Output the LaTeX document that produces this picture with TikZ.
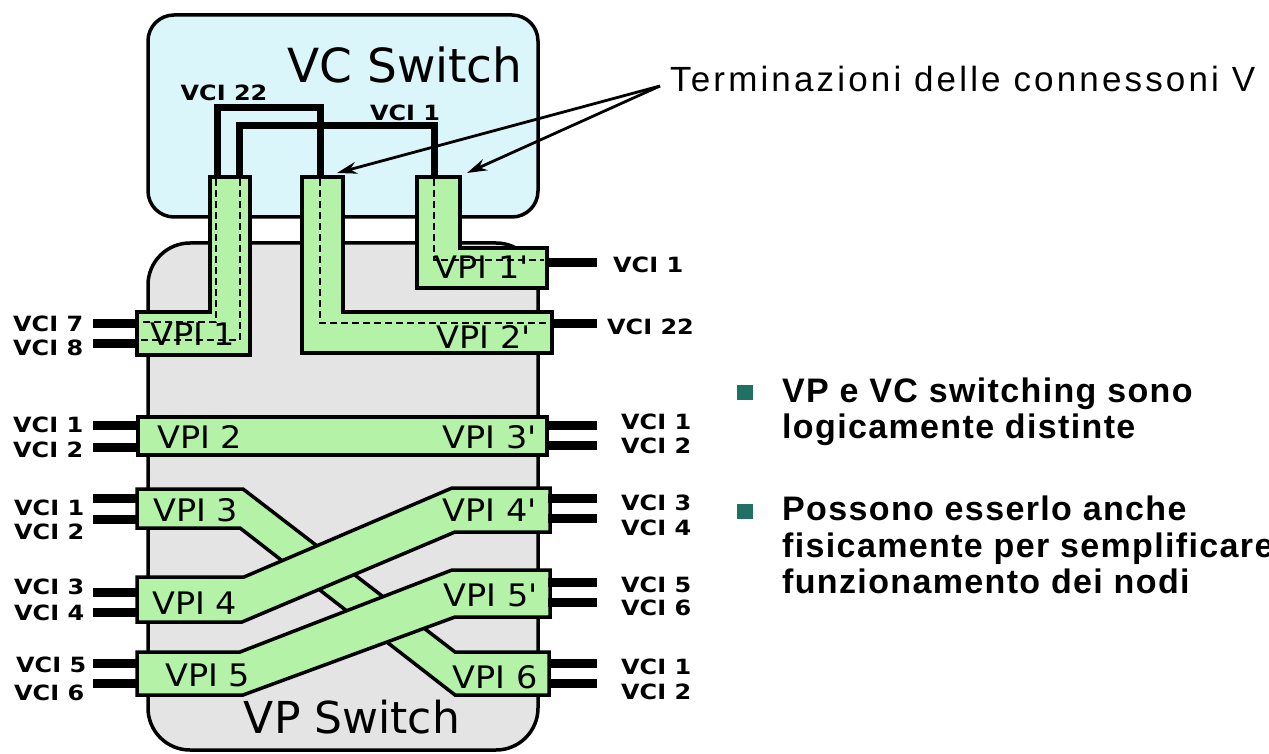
\documentclass[tikz,border=0pt]{standalone}
\usepackage{fontspec}
\usepackage{graphicx}
\setmainfont{DejaVu Sans}
\newfontfamily\termfont[LetterSpace=9]{Liberation Sans}
\newfontfamily\bulfont[LetterSpace=4]{Liberation Sans}
\usetikzlibrary{arrows.meta}
\definecolor{vcblue}{RGB}{218,246,250}
\definecolor{vpgray}{RGB}{228,228,228}
\definecolor{vpigreen}{RGB}{180,242,168}
\definecolor{bulletcol}{RGB}{32,112,100}
\newcommand{\wx}[1]{\scalebox{1.08}[1]{#1}}
\newcommand{\wv}[1]{\scalebox{1.14}[1]{#1}}
\begin{document}
\begin{tikzpicture}[x=1pt,y=-1pt,
  box/.style={draw=black,line width=3.5pt},
  vpi/.style={draw=black,fill=vpigreen,line width=3.5pt,line join=miter},
  vcline/.style={line width=7pt,line join=miter},
  stub/.style={line width=9pt},
  dsh/.style={line width=2.5pt,dash pattern=on 7pt off 4pt},
  vci/.style={font=\fontsize{21}{23}\selectfont\bfseries,inner sep=0pt},
  vpilab/.style={font=\fontsize{31}{33}\selectfont,inner sep=0pt},
  arr/.style={line width=2.8pt,-{Stealth[length=20pt,width=12pt]}},
  bul/.style={font=\fontsize{34}{36}\selectfont\bulfont\bfseries,inner sep=0pt,anchor=base west},
  sq/.style={fill=bulletcol}
  ]
\useasboundingbox (0,0) rectangle (1269,754);
\fill[white] (0,0) rectangle (1269,754);

% switch boxes
\draw[box,fill=vcblue,rounded corners=26pt] (148,15) rectangle (538,217);
\node[anchor=base,inner sep=0pt,font=\fontsize{47}{50}\selectfont] (vctitle) at (405,83) {VC Switch};
\draw[box,fill=vpgray,rounded corners=42pt] (148,243) rectangle (538,750);
\node[anchor=base,inner sep=0pt,font=\fontsize{44}{48}\selectfont] (vptitle) at (352,733) {VP Switch};

% VC switching connections
\draw[vcline] (217,178) -- (217,108) -- (320,108) -- (320,178);
\draw[vcline] (239,178) -- (239,126) -- (434,126) -- (434,178);
\node[vci] (top22) at (224,93) {\wv{VCI 22}};
\node[vci] (top1) at (405,113) {\wv{VCI 1}};

% VP paths
\draw[vpi] (210,177) -- (250,177) -- (250,355) -- (137,355) -- (137,312) -- (210,312) -- cycle;
\draw[vpi] (302,177) -- (343,177) -- (343,312) -- (552,312) -- (552,353) -- (302,353) -- cycle;
\draw[vpi] (417,177) -- (460,177) -- (460,248) -- (547,248) -- (547,288) -- (417,288) -- cycle;
\draw[vpi] (138,417) rectangle (547,455);
\draw[vpi] (137,489) -- (243,489) -- (455,652) -- (549,652) -- (549,695) -- (455,695) -- (240,528) -- (137,528) -- cycle;
\draw[vpi] (137,577) -- (244,577) -- (452,488) -- (550,488) -- (550,532) -- (455,532) -- (242,622) -- (137,622) -- cycle;
\draw[vpi] (137,652) -- (240,652) -- (452,570) -- (550,570) -- (550,617) -- (455,617) -- (243,695) -- (137,695) -- cycle;

% VPI labels
\node[vpilab,anchor=west] (vpi1) at (150,334) {\wx{VPI 1}};
\node[vpilab,anchor=east] (vpi1p) at (529,267) {\wx{VPI 1\textquotesingle}};
\node[vpilab,anchor=east] (vpi2p) at (531,337) {\wx{VPI 2\textquotesingle}};
\node[vpilab,anchor=west] (vpi2) at (157,437) {\wx{VPI 2}};
\node[vpilab,anchor=east] (vpi3p) at (537,437) {\wx{VPI 3\textquotesingle}};
\node[vpilab,anchor=west] (vpi3) at (153,510) {\wx{VPI 3}};
\node[vpilab,anchor=east] (vpi4p) at (537,510) {\wx{VPI 4\textquotesingle}};
\node[vpilab,anchor=west] (vpi4) at (152,603) {\wx{VPI 4}};
\node[vpilab,anchor=east] (vpi5p) at (538,595) {\wx{VPI 5\textquotesingle}};
\node[vpilab,anchor=west] (vpi5) at (165,675) {\wx{VPI 5}};
\node[vpilab,anchor=east] (vpi6) at (538,677) {\wx{VPI 6}};

% dashed VC paths inside VPs
\draw[dsh] (216,179) -- (216,322) -- (140,322);
\draw[dsh] (240,179) -- (240,340) -- (140,340);
\draw[dsh] (320,179) -- (320,323) -- (549,323);
\draw[dsh] (434,179) -- (434,260) -- (544,260);

% stubs left
\foreach \yy in {323,343,425,447,498,519,592,612,663,683}
  \draw[stub] (93,\yy) -- (139,\yy);
% stubs right
\draw[stub] (545,262) -- (597,262);
\draw[stub] (550,323) -- (597,323);
\foreach \yy in {425,445,498,518,582,602,663,683}
  \draw[stub] (548,\yy) -- (597,\yy);

% left labels
\node[vci,anchor=west] (l7) at (13,324) {\wv{VCI 7}};
\node[vci,anchor=west] (l8) at (13,348) {\wv{VCI 8}};
\node[vci,anchor=west] (l1a) at (13,425) {\wv{VCI 1}};
\node[vci,anchor=west] (l2a) at (13,450) {\wv{VCI 2}};
\node[vci,anchor=west] (l1b) at (14,508) {\wv{VCI 1}};
\node[vci,anchor=west] (l2b) at (14,532) {\wv{VCI 2}};
\node[vci,anchor=west] (l3) at (14,587) {\wv{VCI 3}};
\node[vci,anchor=west] (l4) at (14,613) {\wv{VCI 4}};
\node[vci,anchor=west] (l5) at (16,665) {\wv{VCI 5}};
\node[vci,anchor=west] (l6) at (14,693) {\wv{VCI 6}};
% right labels
\node[vci,anchor=west] (r1) at (613,265) {\wv{VCI 1}};
\node[vci,anchor=west] (r22) at (607,327) {\wv{VCI 22}};
\node[vci,anchor=west] (r1b) at (621,422) {\wv{VCI 1}};
\node[vci,anchor=west] (r2b) at (621,446) {\wv{VCI 2}};
\node[vci,anchor=west] (r3) at (621,503) {\wv{VCI 3}};
\node[vci,anchor=west] (r4) at (621,528) {\wv{VCI 4}};
\node[vci,anchor=west] (r5) at (621,585) {\wv{VCI 5}};
\node[vci,anchor=west] (r6) at (621,608) {\wv{VCI 6}};
\node[vci,anchor=west] (r1c) at (621,667) {\wv{VCI 1}};
\node[vci,anchor=west] (r2c) at (621,692) {\wv{VCI 2}};

% annotation
\node[anchor=base west,inner sep=0pt,font=\fontsize{35}{38}\selectfont\termfont] (term) at (670,92) {Terminazioni delle connessoni V};
\coordinate (tp) at (660,86);
\coordinate (tip1) at (337,173);
\coordinate (tip2) at (467,173);
\draw[arr] (tp) -- (tip1);
\draw[arr] (tp) -- (tip2);

% bullets
\fill[sq] (737,385) rectangle (753,400);
\fill[sq] (737,504) rectangle (753,519);
\node[bul] (b1a) at (782,402) {VP e VC switching sono};
\node[bul] (b1b) at (782,438) {logicamente distinte};
\node[bul] (b2a) at (782,520) {Possono esserlo anche};
\node[bul] (b2b) at (782,557) {fisicamente per semplificare};
\node[bul] (b2c) at (782,593) {funzionamento dei nodi};
\end{tikzpicture}
\end{document}
